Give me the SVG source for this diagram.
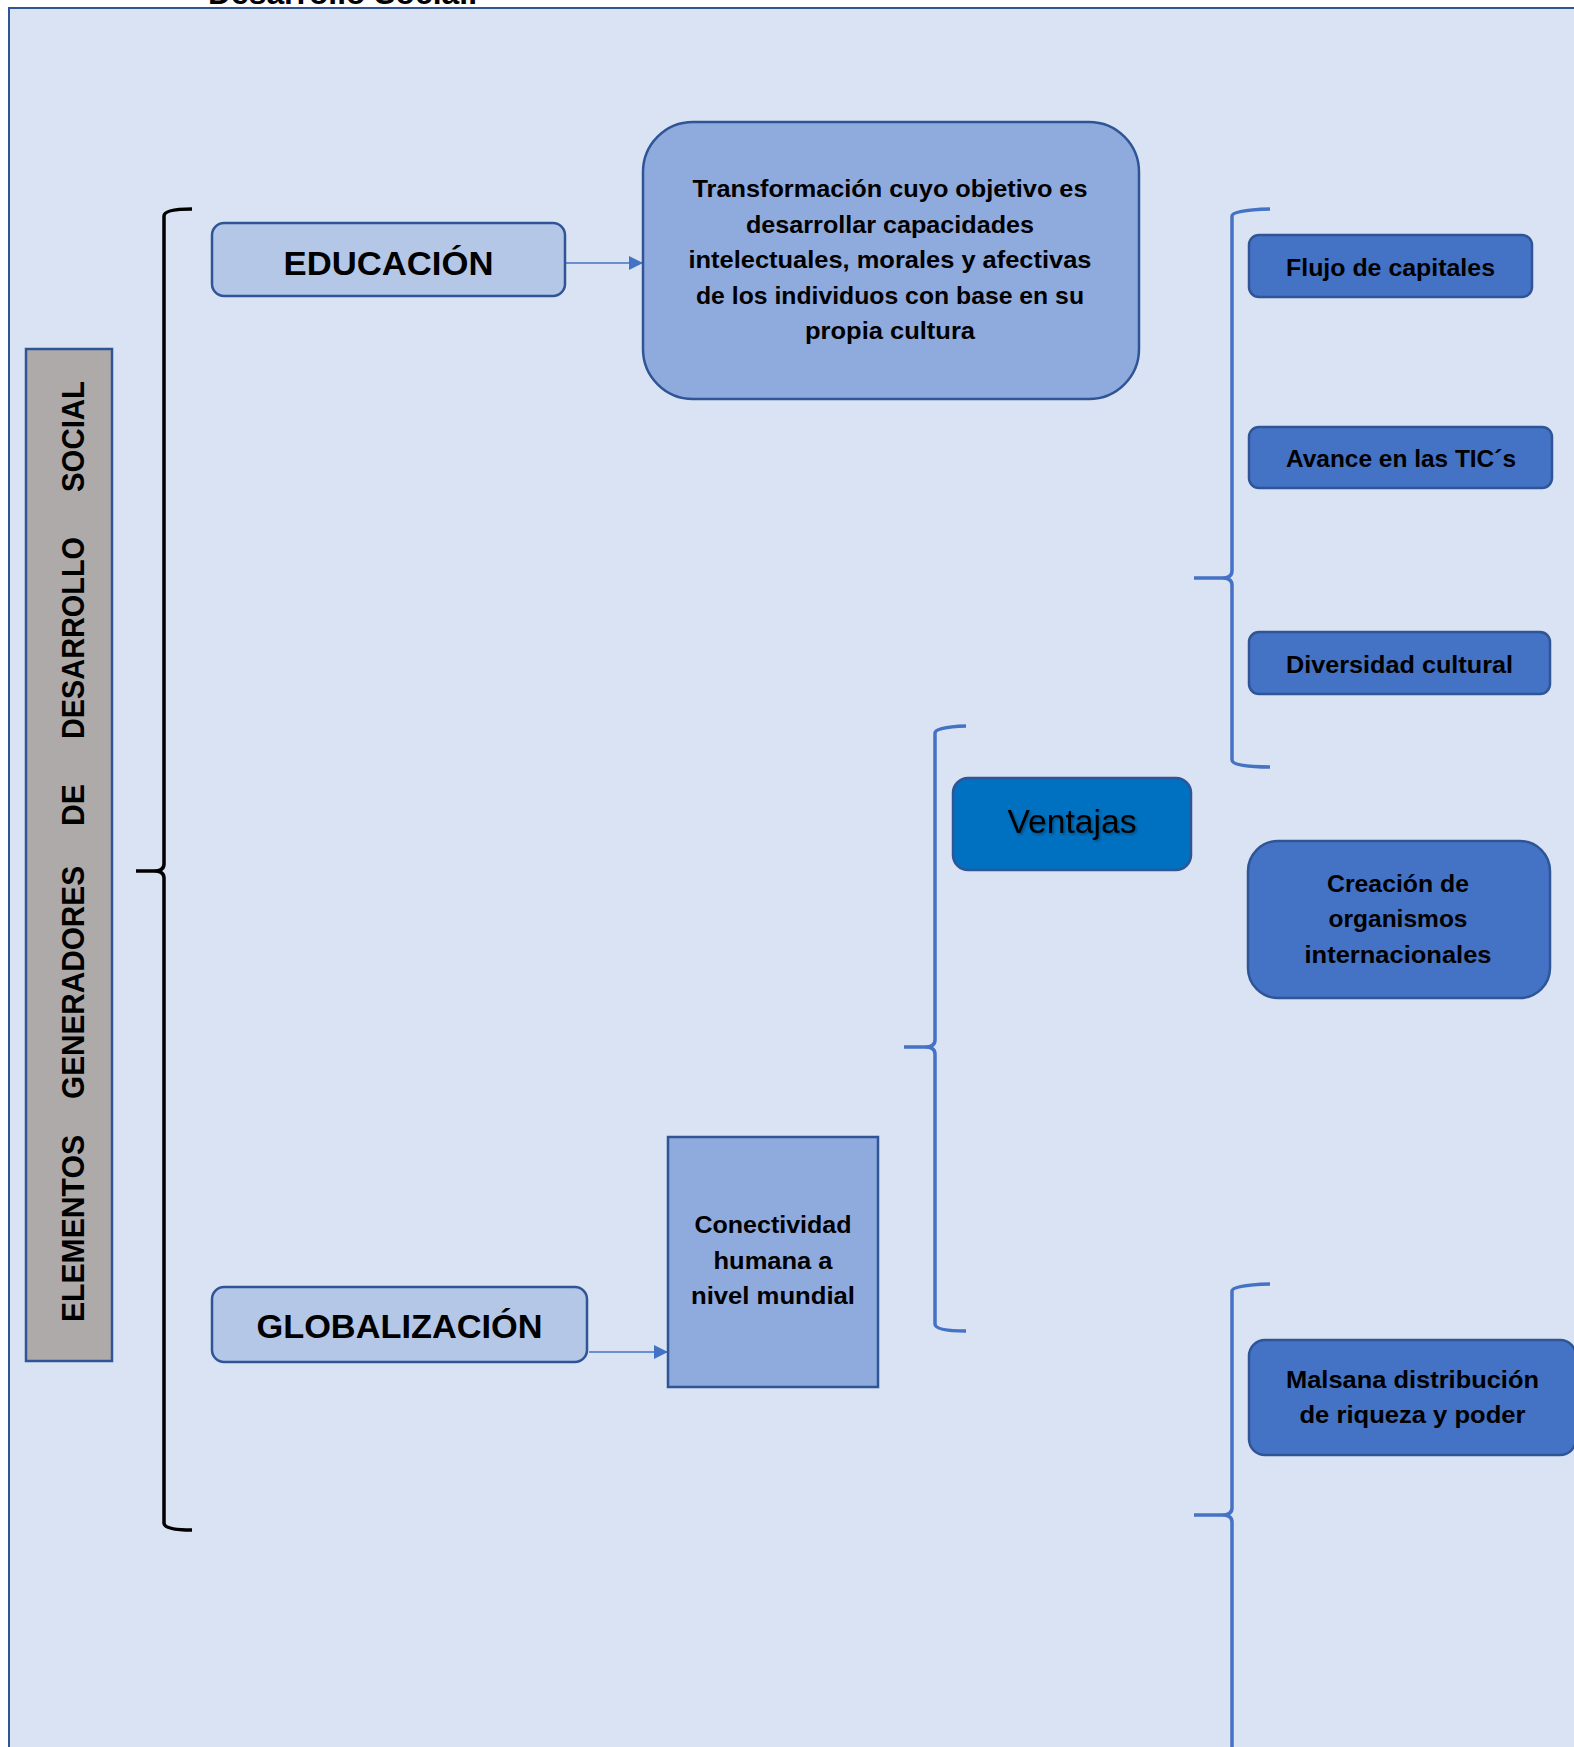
<svg xmlns="http://www.w3.org/2000/svg" width="1574" height="1747" viewBox="0 0 1574 1747">
  <style>
    .b { font-family: "Liberation Sans", Arial, sans-serif; font-weight: bold; fill: #000; }
    .r { font-family: "Liberation Sans", Arial, sans-serif; font-weight: normal; fill: #000; }
    .mid { text-anchor: middle; }
    .box { stroke: #2F5597; stroke-width: 2.5; }
    .lightbox { fill: #B4C7E7; }
    .medbox { fill: #8FAADC; }
    .bluebox { fill: #4472C4; }
    .brace-k { fill: none; stroke: #000; stroke-width: 3.5; stroke-linecap: butt; stroke-linejoin: round; }
    .brace-b { fill: none; stroke: #4472C4; stroke-width: 3.5; stroke-linecap: butt; stroke-linejoin: round; }
    .arrow { stroke: #4472C4; stroke-width: 1.5; fill: none; }
  </style>
  <defs>
    <marker id="ah" viewBox="0 0 10 10" refX="10" refY="5" markerUnits="userSpaceOnUse" markerWidth="16" markerHeight="14" orient="auto">
      <path d="M0,0 L10,5 L0,10 z" fill="#4472C4"/>
    </marker>
    <filter id="shadow" x="-10%" y="-20%" width="130%" height="150%">
      <feDropShadow dx="1.5" dy="1.5" stdDeviation="1" flood-color="#000" flood-opacity="0.35"/>
    </filter>
  </defs>

  <rect x="0" y="0" width="1574" height="1747" fill="#FFFFFF"/>
  <rect x="9" y="8" width="1620" height="1800" fill="#DAE3F3" stroke="#2F5597" stroke-width="2"/>

  <g id="title">
    <text class="b" x="208" y="4" font-size="32" textLength="269" lengthAdjust="spacingAndGlyphs">Desarrollo Social.</text>
  </g>

  <g id="connectors">
    <path class="brace-k" d="M192,209 Q164,209 164,216 L164,864 Q164,871 154,871 L136,871 M154,871 Q164,871 164,878 L164,1523 Q164,1530 192,1530"/>
    <path class="brace-b" d="M1270,209 Q1232,210 1232,216 L1232,571 Q1232,578 1222,578 L1194,578 M1222,578 Q1232,578 1232,585 L1232,760 Q1232,767 1270,767"/>
    <path class="brace-b" d="M966,726 Q935,727 935,733 L935,1040 Q935,1047 925,1047 L904,1047 M925,1047 Q935,1047 935,1054 L935,1324 Q935,1331 966,1331"/>
    <path class="brace-b" d="M1270,1284 Q1232,1285 1232,1291 L1232,1508 Q1232,1515 1222,1515 L1194,1515 M1222,1515 Q1232,1515 1232,1522 L1232,1760"/>
    <line class="arrow" x1="566" y1="263" x2="643" y2="263" marker-end="url(#ah)"/>
    <line class="arrow" x1="589" y1="1352" x2="668" y2="1352" marker-end="url(#ah)"/>
  </g>

  <g id="n-tema">
    <rect x="26" y="349" width="86" height="1012" fill="#AEAAAA" stroke="#2F5597" stroke-width="2.5"/>
    <text class="b" font-size="31" transform="translate(84,1322) rotate(-90)" textLength="187" lengthAdjust="spacingAndGlyphs">ELEMENTOS</text>
    <text class="b" font-size="31" transform="translate(84,1099) rotate(-90)" textLength="233" lengthAdjust="spacingAndGlyphs">GENERADORES</text>
    <text class="b" font-size="31" transform="translate(84,826) rotate(-90)" textLength="42" lengthAdjust="spacingAndGlyphs">DE</text>
    <text class="b" font-size="31" transform="translate(84,739) rotate(-90)" textLength="202" lengthAdjust="spacingAndGlyphs">DESARROLLO</text>
    <text class="b" font-size="31" transform="translate(84,492) rotate(-90)" textLength="111" lengthAdjust="spacingAndGlyphs">SOCIAL</text>
  </g>

  <g id="n-educacion">
    <rect class="box lightbox" x="212" y="223" width="353" height="73" rx="12"/>
    <text class="b mid" x="388.5" y="275" font-size="34" textLength="210" lengthAdjust="spacingAndGlyphs">EDUCACIÓN</text>
  </g>

  <g id="n-def-educacion">
    <rect class="box medbox" x="643" y="122" width="496" height="277" rx="50"/>
    <text class="b mid" x="890" y="197" font-size="24" textLength="395" lengthAdjust="spacingAndGlyphs">Transformación cuyo objetivo es</text>
    <text class="b mid" x="890" y="233" font-size="24" textLength="288" lengthAdjust="spacingAndGlyphs">desarrollar capacidades</text>
    <text class="b mid" x="890" y="268" font-size="24" textLength="403" lengthAdjust="spacingAndGlyphs">intelectuales, morales y afectivas</text>
    <text class="b mid" x="890" y="304" font-size="24" textLength="388" lengthAdjust="spacingAndGlyphs">de los individuos con base en su</text>
    <text class="b mid" x="890" y="339" font-size="24" textLength="170" lengthAdjust="spacingAndGlyphs">propia cultura</text>
  </g>

  <g id="n-globalizacion">
    <rect class="box lightbox" x="212" y="1287" width="375" height="75" rx="12"/>
    <text class="b mid" x="399.5" y="1338" font-size="34" textLength="286" lengthAdjust="spacingAndGlyphs">GLOBALIZACIÓN</text>
  </g>

  <g id="n-conectividad">
    <rect class="box medbox" x="668" y="1137" width="210" height="250"/>
    <text class="b mid" x="773" y="1233" font-size="24" textLength="157" lengthAdjust="spacingAndGlyphs">Conectividad</text>
    <text class="b mid" x="773" y="1269" font-size="24" textLength="119" lengthAdjust="spacingAndGlyphs">humana a</text>
    <text class="b mid" x="773" y="1304" font-size="24" textLength="164" lengthAdjust="spacingAndGlyphs">nivel mundial</text>
  </g>

  <g id="n-ventajas">
    <rect x="953" y="778" width="238" height="92" rx="15" fill="#0070C0" stroke="#2F5597" stroke-width="2.5"/>
    <text class="r mid" x="1072" y="833" font-size="33" textLength="129" lengthAdjust="spacingAndGlyphs" filter="url(#shadow)">Ventajas</text>
  </g>

  <g id="n-flujo">
    <rect class="box bluebox" x="1249" y="235" width="283" height="62" rx="10"/>
    <text class="b mid" x="1390.5" y="276" font-size="24" textLength="209" lengthAdjust="spacingAndGlyphs">Flujo de capitales</text>
  </g>

  <g id="n-tics">
    <rect class="box bluebox" x="1249" y="427" width="303" height="61" rx="10"/>
    <text class="b mid" x="1401" y="467" font-size="24" textLength="230" lengthAdjust="spacingAndGlyphs">Avance en las TIC´s</text>
  </g>

  <g id="n-diversidad">
    <rect class="box bluebox" x="1249" y="632" width="301" height="62" rx="10"/>
    <text class="b mid" x="1399.5" y="673" font-size="24" textLength="227" lengthAdjust="spacingAndGlyphs">Diversidad cultural</text>
  </g>

  <g id="n-organismos">
    <rect class="box bluebox" x="1248" y="841" width="302" height="157" rx="30"/>
    <text class="b mid" x="1398" y="892" font-size="24" textLength="142" lengthAdjust="spacingAndGlyphs">Creación de</text>
    <text class="b mid" x="1398" y="927" font-size="24" textLength="139" lengthAdjust="spacingAndGlyphs">organismos</text>
    <text class="b mid" x="1398" y="963" font-size="24" textLength="187" lengthAdjust="spacingAndGlyphs">internacionales</text>
  </g>

  <g id="n-malsana">
    <rect class="box bluebox" x="1249" y="1340" width="327" height="115" rx="16"/>
    <text class="b mid" x="1412.5" y="1388" font-size="24" textLength="253" lengthAdjust="spacingAndGlyphs">Malsana distribución</text>
    <text class="b mid" x="1412.5" y="1423" font-size="24" textLength="226" lengthAdjust="spacingAndGlyphs">de riqueza y poder</text>
  </g>
</svg>
